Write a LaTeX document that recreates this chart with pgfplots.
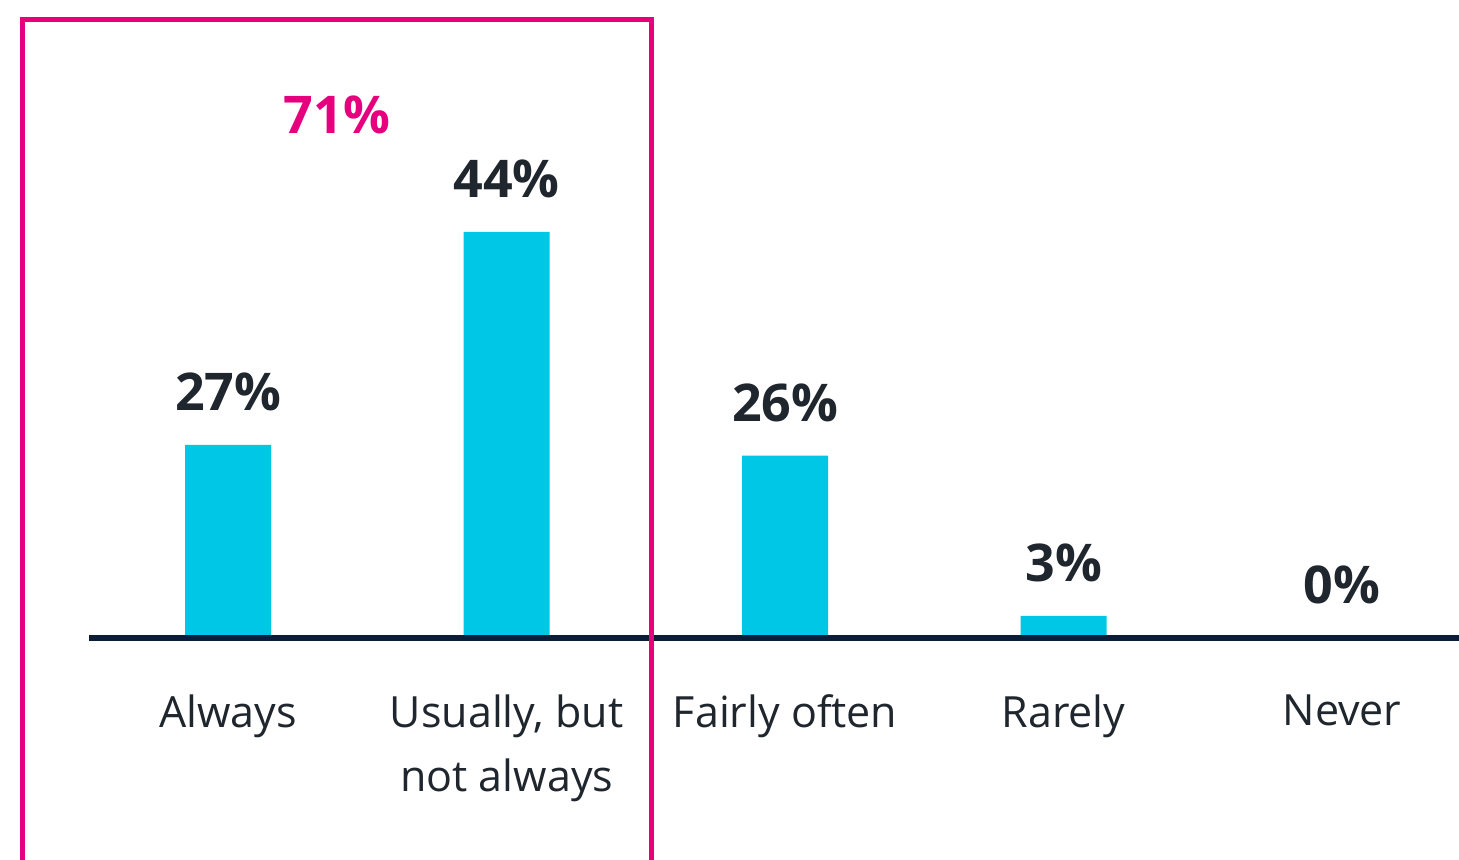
\documentclass[border=0pt]{standalone}
\usepackage{pgfplots}
\pgfplotsset{compat=1.18}
\usepackage{pgfplotstable}
\usepackage{fontspec}
\setmainfont{Open Sans}
\definecolor{barcyan}{HTML}{00C7E6}
\definecolor{navy}{HTML}{0C1D3A}
\definecolor{pinkbox}{HTML}{E6007E}
\definecolor{txt}{HTML}{1F262D}

\pgfplotstableread{
x h lab
0 27.0 27
1 56.8 44
2 25.5 26
3 3.1 3
4 0 0
}\data

\begin{document}
\begin{tikzpicture}[x=1pt,y=1pt]
\useasboundingbox (0,0) rectangle (729.5,429.5);
\begin{axis}[
  at={(44.5pt,110.5pt)}, anchor=south west,
  scale only axis, width=685pt, height=286pt,
  xmin=-0.5, xmax=4.42, ymin=0, ymax=80,
  hide y axis,
  axis x line*=bottom,
  x axis line style={-, line width=3pt, draw=navy},
  axis on top,
  clip=false,
  xtick={0,1,2,3,4},
  xticklabels={Always, {Usually, but\\not always}, Fairly often, Rarely, Never},
  major tick length=0pt,
  xticklabel style={align=center, font=\fontsize{21.5}{32}\selectfont, text=txt, anchor=north, yshift=-25pt},
]
\addplot[ybar, fill=barcyan, draw=none, bar width=43pt,
  point meta=explicit symbolic,
  nodes near coords={\pgfplotspointmeta\%},
  every node near coord/.append style={font=\bfseries\fontsize{26}{30}\selectfont, text=txt, anchor=center, yshift=26.5pt}]
  table[x=x, y=h, meta=lab]{\data};
\end{axis}
\draw[pinkbox, line width=2.5pt] (11,-20) rectangle (325.5,419.5);
\node[text=pinkbox, font=\bfseries\fontsize{26}{30}\selectfont] at (168.5,372) {71\%};
\end{tikzpicture}
\end{document}
